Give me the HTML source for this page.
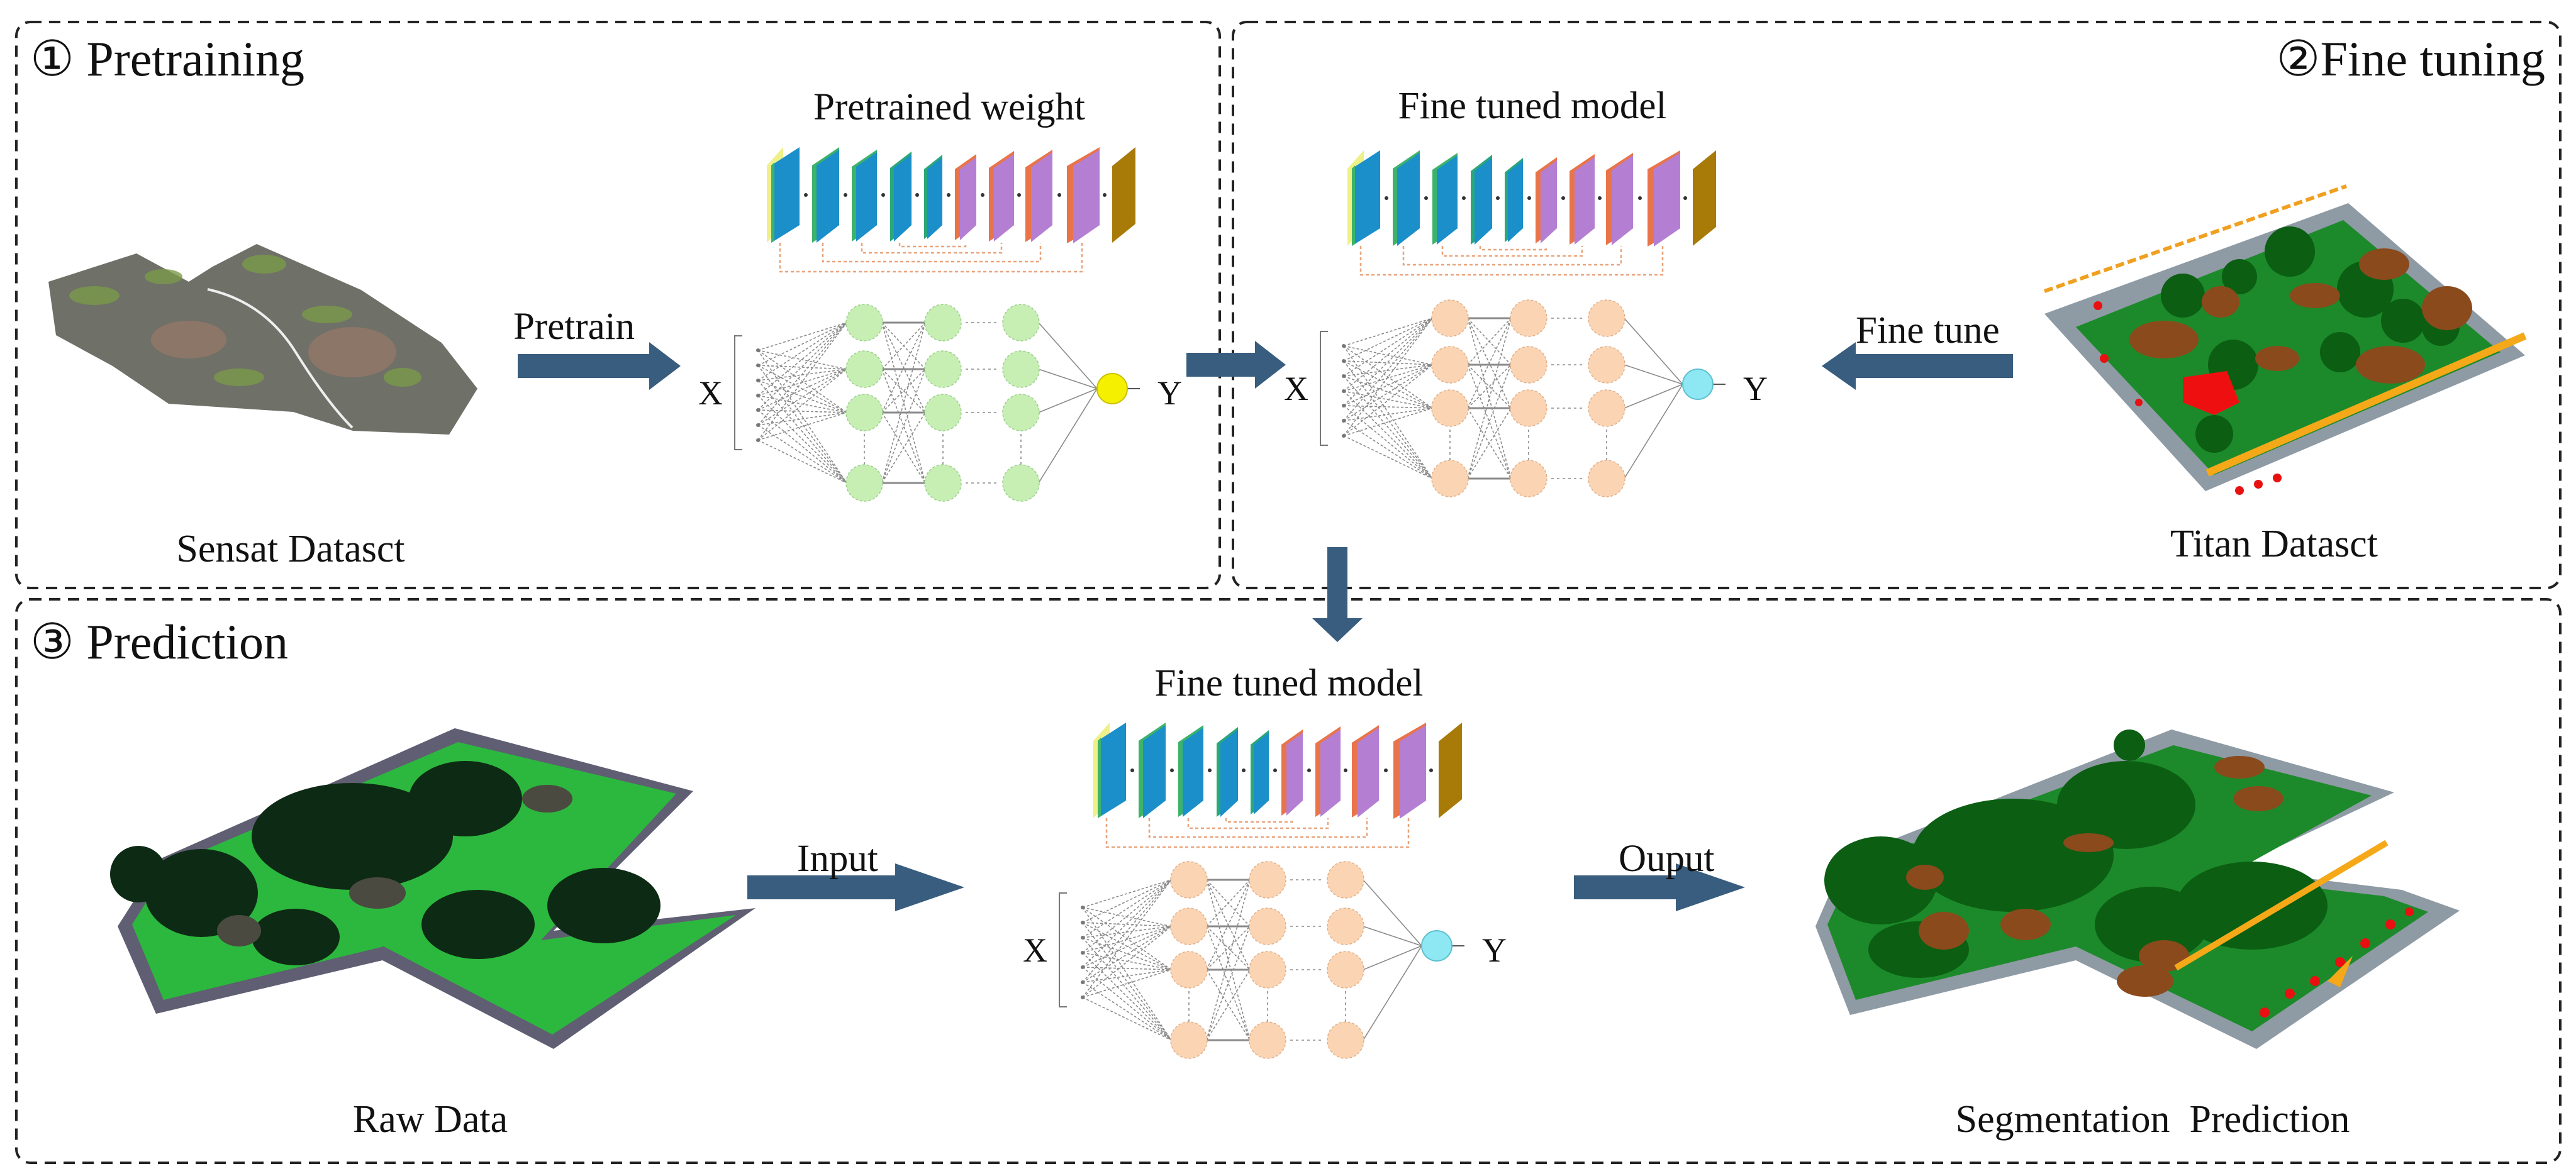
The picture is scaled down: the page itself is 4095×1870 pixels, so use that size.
<!DOCTYPE html>
<html><head><meta charset="utf-8"><style>
html,body{margin:0;padding:0;background:#fff;}
svg{display:block;}
text{font-family:"Liberation Serif","DejaVu Serif",serif;fill:#111;}
</style></head><body>
<svg width="4095" height="1870" viewBox="0 0 4095 1870" xmlns="http://www.w3.org/2000/svg">
<defs>
<g id="blocks">
  <g fill="none" stroke="#e8a47c" stroke-width="2.5" stroke-dasharray="5 4">
    <path d="M1240 386 V432 H1720 V386"/>
    <path d="M1308 386 V416 H1654 V386"/>
    <path d="M1370 386 V402 H1592 V386"/>
    <path d="M1430 386 V392 H1535 V386"/>
  </g>
  <g fill="#333">
    <circle cx="1281" cy="310" r="3"/><circle cx="1344" cy="310" r="3"/><circle cx="1404" cy="310" r="3"/><circle cx="1458" cy="310" r="3"/><circle cx="1508" cy="310" r="3"/><circle cx="1562" cy="310" r="3"/><circle cx="1620" cy="310" r="3"/><circle cx="1684" cy="310" r="3"/><circle cx="1756" cy="310" r="3"/>
  </g>
  <polygon points="1219,263 1245,234 1245,358 1219,386" fill="#eef08a"/>
  <polygon points="1226,263 1271,234 1271,358 1226,386" fill="#1a8fc9"/>
  <polygon points="1226,263 1231,258 1231,383 1226,386" fill="#3cb36a"/>
  <polygon points="1291,263 1334,234 1334,358 1291,386" fill="#3cb36a"/>
  <polygon points="1298,263 1334,238 1334,358 1298,386" fill="#1a8fc9"/>
  <polygon points="1354,265 1394,238 1394,358 1354,384" fill="#3cb36a"/>
  <polygon points="1361,265 1394,242 1394,358 1361,384" fill="#1a8fc9"/>
  <polygon points="1415,267 1449,241 1449,358 1415,384" fill="#2aa878"/>
  <polygon points="1421,267 1449,245 1449,358 1421,384" fill="#1a8fc9"/>
  <polygon points="1469,269 1498,246 1498,358 1469,380" fill="#2aa878"/>
  <polygon points="1474,269 1498,250 1498,358 1474,380" fill="#1a8fc9"/>
  <polygon points="1518,269 1552,245 1552,358 1518,382" fill="#e9744a"/>
  <polygon points="1526,269 1552,250 1552,358 1526,382" fill="#b47fd3"/>
  <polygon points="1572,267 1612,240 1612,358 1572,384" fill="#e9744a"/>
  <polygon points="1580,267 1612,245 1612,358 1580,384" fill="#b47fd3"/>
  <polygon points="1630,266 1673,238 1673,358 1630,385" fill="#e9744a"/>
  <polygon points="1639,266 1673,242 1673,358 1639,385" fill="#b47fd3"/>
  <polygon points="1696,264 1748,234 1748,358 1696,387" fill="#e9744a"/>
  <polygon points="1706,264 1748,238 1748,358 1706,387" fill="#b47fd3"/>
  <polygon points="1768,264 1805,234 1805,356 1768,386" fill="#a87a08"/>
</g>
<g id="netlines" fill="none" stroke="#8a8a8a" stroke-width="1.6">
  <path stroke-dasharray="4 3" d="M1205 557L1346 513M1205 557L1346 587M1205 557L1346 656M1205 557L1346 768M1205 581L1346 513M1205 581L1346 587M1205 581L1346 656M1205 581L1346 768M1205 605L1346 513M1205 605L1346 587M1205 605L1346 656M1205 605L1346 768M1205 629L1346 513M1205 629L1346 587M1205 629L1346 656M1205 629L1346 768M1205 652L1346 513M1205 652L1346 587M1205 652L1346 656M1205 652L1346 768M1205 676L1346 513M1205 676L1346 587M1205 676L1346 656M1205 676L1346 768M1205 700L1346 513M1205 700L1346 587M1205 700L1346 656M1205 700L1346 768"/>
  <path stroke-dasharray="4 3" d="M1402 513L1471 587M1402 513L1471 656M1402 513L1471 768M1402 587L1471 513M1402 587L1471 656M1402 587L1471 768M1402 656L1471 513M1402 656L1471 587M1402 656L1471 768M1402 768L1471 513M1402 768L1471 587M1402 768L1471 656"/>
  <path stroke-width="3" d="M1402 513L1471 513M1402 587L1471 587M1402 656L1471 656M1402 768L1471 768"/>
  <path d="M1651 513L1744 618M1651 587L1744 618M1651 656L1744 618M1651 768L1744 618"/>
  <path d="M1792 618L1812 618" stroke="#555" stroke-width="2"/>
  <path stroke-dasharray="4 5" d="M1535 513H1585M1535 587H1585M1535 656H1585M1535 768H1585M1374 690V740M1499 690V740M1623 690V740"/>
  <path stroke="#777" stroke-width="2" d="M1180 534H1168V715H1180"/>
  <g fill="#777" stroke="none"><circle cx="1205" cy="557" r="3"/><circle cx="1205" cy="581" r="3"/><circle cx="1205" cy="605" r="3"/><circle cx="1205" cy="629" r="3"/><circle cx="1205" cy="652" r="3"/><circle cx="1205" cy="676" r="3"/><circle cx="1205" cy="700" r="3"/></g>
</g>
<g id="nodes" stroke-width="1.5" stroke-dasharray="4 3">
  <circle cx="1374" cy="513" r="29"/><circle cx="1374" cy="587" r="29"/><circle cx="1374" cy="656" r="29"/><circle cx="1374" cy="768" r="29"/>
  <circle cx="1499" cy="513" r="29"/><circle cx="1499" cy="587" r="29"/><circle cx="1499" cy="656" r="29"/><circle cx="1499" cy="768" r="29"/>
  <circle cx="1623" cy="513" r="29"/><circle cx="1623" cy="587" r="29"/><circle cx="1623" cy="656" r="29"/><circle cx="1623" cy="768" r="29"/>
</g>
</defs>

<g fill="none" stroke="#222" stroke-width="4" stroke-dasharray="18 12">
  <rect x="26" y="35" width="1913" height="900" rx="22"/>
  <rect x="1960" y="35" width="2110" height="900" rx="22"/>
  <rect x="26" y="953" width="4044" height="896" rx="22"/>
</g>

<text x="48" y="120" font-size="78">① Pretraining</text>
<text x="4046" y="120" font-size="78" text-anchor="end">②Fine tuning</text>
<text x="48" y="1047" font-size="78">③ Prediction</text>

<use href="#blocks"/>
<use href="#netlines"/>
<use href="#nodes" fill="#c7efb4" stroke="#9ccf8c"/>
<circle cx="1768" cy="618" r="24" fill="#f5f000" stroke="#c9c000" stroke-width="2"/>
<text x="1509" y="190" font-size="61" text-anchor="middle">Pretrained weight</text>
<text x="1110" y="643" font-size="54">X</text>
<text x="1840" y="643" font-size="54">Y</text>

<use href="#blocks" transform="translate(923,5)"/>
<use href="#netlines" transform="translate(931,-7)"/>
<use href="#nodes" transform="translate(931,-7)" fill="#fbd5b3" stroke="#e0b08a"/>
<circle cx="2699" cy="611" r="24" fill="#8ee8f4" stroke="#5cc0d0" stroke-width="2"/>
<text x="2436" y="188" font-size="61" text-anchor="middle">Fine tuned model</text>
<text x="2041" y="636" font-size="54">X</text>
<text x="2771" y="636" font-size="54">Y</text>

<use href="#blocks" transform="translate(519,915)"/>
<use href="#netlines" transform="translate(516,886)"/>
<use href="#nodes" transform="translate(516,886)" fill="#fbd5b3" stroke="#e0b08a"/>
<circle cx="2284" cy="1504" r="24" fill="#8ee8f4" stroke="#5cc0d0" stroke-width="2"/>
<text x="2049" y="1106" font-size="61" text-anchor="middle">Fine tuned model</text>
<text x="1626" y="1529" font-size="54">X</text>
<text x="2356" y="1529" font-size="54">Y</text>

<g fill="#385d7e">
  <polygon points="823,563 1032,563 1032,544 1082,582 1032,620 1032,601 823,601"/>
  <polygon points="1886,561 1995,561 1995,542 2044,580 1995,618 1995,599 1886,599"/>
  <polygon points="3200,563 2950,563 2950,544 2896,582 2950,620 2950,601 3200,601"/>
  <polygon points="2110,870 2142,870 2142,983 2166,983 2126,1021 2086,983 2110,983"/>
  <polygon points="1188,1392 1423,1392 1423,1373 1533,1411 1423,1449 1423,1430 1188,1430"/>
  <polygon points="2502,1392 2664,1392 2664,1373 2774,1411 2664,1449 2664,1430 2502,1430"/>
</g>
<text x="816" y="539" font-size="61">Pretrain</text>
<text x="2950" y="545" font-size="61">Fine tune</text>
<text x="1267" y="1385" font-size="61">Input</text>
<text x="2573" y="1385" font-size="61">Ouput</text>

<polygon points="77,448 217,403 300,448 338,424 408,388 574,461 702,545 759,618 714,691 561,685 466,655 268,642 179,582 89,533" fill="#6f7068"/>
<g fill="#7a9a4a" opacity="0.8">
  <ellipse cx="150" cy="470" rx="40" ry="15"/><ellipse cx="260" cy="440" rx="30" ry="12"/><ellipse cx="420" cy="420" rx="35" ry="15"/><ellipse cx="520" cy="500" rx="40" ry="14"/><ellipse cx="640" cy="600" rx="30" ry="15"/><ellipse cx="380" cy="600" rx="40" ry="14"/>
</g>
<g fill="#a07a68" opacity="0.6"><ellipse cx="560" cy="560" rx="70" ry="40"/><ellipse cx="300" cy="540" rx="60" ry="30"/></g>
<path d="M330 460 Q420 480 470 560 T560 680" stroke="#eee" stroke-width="4" fill="none"/>
<text x="462" y="893" font-size="62" text-anchor="middle">Sensat Datasct</text>

<polygon points="3733,323 4014,565 3506,781 3250,499" fill="#8e9aa4"/>
<polygon points="3725,350 3975,560 3520,755 3300,520" fill="#1c8a2a"/>
<g fill="#0b5e12">
  <circle cx="3470" cy="470" r="35"/><circle cx="3560" cy="440" r="28"/><circle cx="3640" cy="400" r="40"/><circle cx="3760" cy="460" r="45"/><circle cx="3820" cy="510" r="35"/><circle cx="3880" cy="520" r="30"/><circle cx="3550" cy="580" r="40"/><circle cx="3520" cy="690" r="30"/><circle cx="3720" cy="560" r="32"/>
</g>
<g fill="#8a4a1c">
  <ellipse cx="3440" cy="540" rx="55" ry="30"/><ellipse cx="3530" cy="480" rx="30" ry="25"/><ellipse cx="3620" cy="570" rx="35" ry="20"/><ellipse cx="3680" cy="470" rx="40" ry="20"/><ellipse cx="3790" cy="420" rx="40" ry="25"/><ellipse cx="3890" cy="490" rx="40" ry="35"/><ellipse cx="3800" cy="580" rx="55" ry="30"/>
</g>
<polygon points="3470,600 3540,590 3560,640 3520,660 3470,640" fill="#ee1010"/>
<path d="M3250 463 L3730 296" stroke="#f0a020" stroke-width="6" stroke-dasharray="14 6"/>
<path d="M3509 752 L4014 534" stroke="#f5a818" stroke-width="12"/>
<g fill="#e81010"><circle cx="3335" cy="486" r="7"/><circle cx="3345" cy="570" r="7"/><circle cx="3560" cy="780" r="7"/><circle cx="3590" cy="770" r="7"/><circle cx="3620" cy="760" r="7"/><circle cx="3400" cy="640" r="6"/></g>
<text x="3615" y="885" font-size="62" text-anchor="middle">Titan Datasct</text>

<polygon points="723,1158 1102,1258 880,1480 1201,1444 880,1668 608,1527 248,1612 187,1473 256,1365" fill="#5f5e72"/>
<polygon points="728,1180 1075,1262 860,1495 1170,1455 878,1645 610,1505 260,1590 210,1470 270,1375" fill="#2cb83e"/>
<g fill="#0d2a14">
  <ellipse cx="560" cy="1330" rx="160" ry="85"/><ellipse cx="740" cy="1270" rx="90" ry="60"/><ellipse cx="320" cy="1420" rx="90" ry="70"/><ellipse cx="960" cy="1440" rx="90" ry="60"/><ellipse cx="760" cy="1470" rx="90" ry="55"/><ellipse cx="470" cy="1490" rx="70" ry="45"/><ellipse cx="220" cy="1390" rx="45" ry="45"/>
</g>
<g fill="#4a4a40"><ellipse cx="870" cy="1270" rx="40" ry="22"/><ellipse cx="380" cy="1480" rx="35" ry="25"/><ellipse cx="600" cy="1420" rx="45" ry="25"/></g>
<text x="684" y="1800" font-size="62" text-anchor="middle">Raw Data</text>

<polygon points="3452,1160 3806,1260 3547,1382 3818,1415 3910,1448 3587,1668 3300,1527 2941,1614 2886,1473 2933,1365" fill="#8e9aa4"/>
<polygon points="3455,1185 3770,1265 3535,1395 3790,1425 3860,1450 3580,1640 3300,1505 2950,1590 2905,1470 2950,1375" fill="#1c8a2a"/>
<g fill="#0b5e12">
  <ellipse cx="3200" cy="1360" rx="160" ry="90"/><ellipse cx="3380" cy="1280" rx="110" ry="70"/><ellipse cx="2990" cy="1400" rx="90" ry="70"/><ellipse cx="3580" cy="1440" rx="120" ry="70"/><ellipse cx="3420" cy="1470" rx="90" ry="60"/><ellipse cx="3050" cy="1510" rx="80" ry="45"/><circle cx="3385" cy="1185" r="25"/>
</g>
<g fill="#8a4a1c"><ellipse cx="3560" cy="1220" rx="40" ry="18"/><ellipse cx="3590" cy="1270" rx="40" ry="20"/><ellipse cx="3220" cy="1470" rx="40" ry="25"/><ellipse cx="3090" cy="1480" rx="40" ry="30"/><ellipse cx="3440" cy="1520" rx="40" ry="25"/><ellipse cx="3410" cy="1560" rx="45" ry="25"/><ellipse cx="3320" cy="1340" rx="40" ry="15"/><ellipse cx="3060" cy="1395" rx="30" ry="20"/></g>
<path d="M3459 1539 L3794 1340" stroke="#f5a818" stroke-width="10"/>
<g fill="#e81010"><circle cx="3600" cy="1610" r="8"/><circle cx="3640" cy="1580" r="8"/><circle cx="3680" cy="1560" r="8"/><circle cx="3720" cy="1530" r="8"/><circle cx="3760" cy="1500" r="8"/><circle cx="3800" cy="1470" r="8"/><circle cx="3830" cy="1450" r="7"/></g>
<polygon points="3700,1560 3740,1520 3720,1570" fill="#f5a818"/>
<text x="3422" y="1800" font-size="62" text-anchor="middle" xml:space="preserve">Segmentation  Prediction</text>
</svg>
</body></html>
